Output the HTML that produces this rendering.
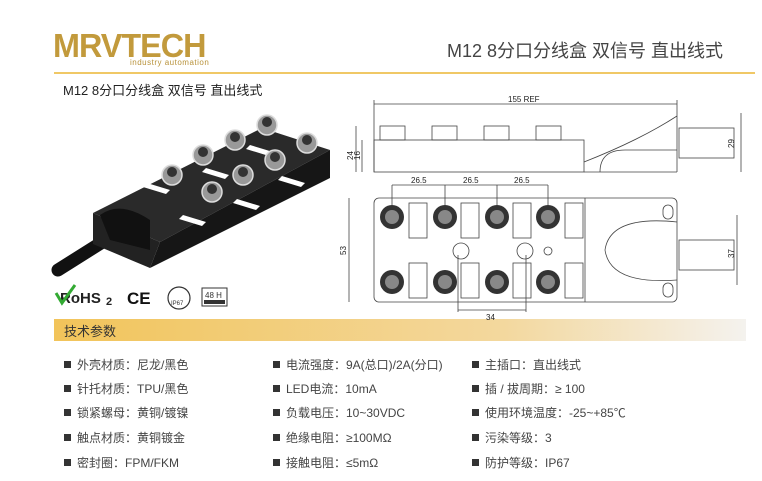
<!DOCTYPE html>
<html><head><meta charset="utf-8"><style>
body{margin:0;width:762px;height:481px;background:#fff;position:relative;overflow:hidden;font-family:"Liberation Sans","Noto Sans CJK SC",sans-serif;color:#333}
.a{position:absolute;white-space:nowrap}
.r{font-size:12px;color:#444}
.r b{display:inline-block;width:7px;height:7px;background:#333;margin-right:6px;vertical-align:1px}
</style></head><body>
<div class="a" style="left:53px;top:29px;font-size:33px;font-weight:bold;color:#c29a3c;letter-spacing:-1px;line-height:33px;font-family:'Liberation Sans',sans-serif;transform-origin:0 0;transform:scaleX(0.98)">MRVTECH</div>
<div class="a" style="left:130px;top:58px;font-size:8px;color:#b8923a;letter-spacing:0.5px">industry automation</div>
<div class="a" style="left:447px;top:37px;font-size:18px;color:#444">M12 8分口分线盒 双信号 直出线式</div>
<div class="a" style="left:54px;top:72px;width:701px;height:2px;background:#f0c866"></div>
<div class="a" style="left:63px;top:80px;font-size:13px;color:#222">M12 8分口分线盒 双信号 直出线式</div>
<div class="a" style="left:54px;top:319px;width:692px;height:22px;background:linear-gradient(90deg,#f2c45a,#f3d89e 65%,#f4f2ee)"></div>
<div class="a" style="left:64px;top:321px;font-size:13px;color:#333">技术参数</div>

<div class="a r" style="left:64px;top:356px"><b></b>外壳材质：尼龙/黑色</div>
<div class="a r" style="left:64px;top:380px"><b></b>针托材质：TPU/黑色</div>
<div class="a r" style="left:64px;top:404px"><b></b>锁紧螺母：黄铜/镀镍</div>
<div class="a r" style="left:64px;top:429px"><b></b>触点材质：黄铜镀金</div>
<div class="a r" style="left:64px;top:454px"><b></b>密封圈：FPM/FKM</div>
<div class="a r" style="left:273px;top:356px"><b></b>电流强度：9A(总口)/2A(分口)</div>
<div class="a r" style="left:273px;top:380px"><b></b>LED电流：10mA</div>
<div class="a r" style="left:273px;top:404px"><b></b>负载电压：10~30VDC</div>
<div class="a r" style="left:273px;top:429px"><b></b>绝缘电阻：≥100MΩ</div>
<div class="a r" style="left:273px;top:454px"><b></b>接触电阻：≤5mΩ</div>
<div class="a r" style="left:472px;top:356px"><b></b>主插口：直出线式</div>
<div class="a r" style="left:472px;top:380px"><b></b>插 / 拔周期：≥ 100</div>
<div class="a r" style="left:472px;top:404px"><b></b>使用环境温度：-25~+85℃</div>
<div class="a r" style="left:472px;top:429px"><b></b>污染等级：3</div>
<div class="a r" style="left:472px;top:454px"><b></b>防护等级：IP67</div>

<svg class="a" style="left:0;top:0" width="762" height="481">
<path d="M58,270 L112,236" stroke="#111" stroke-width="13" stroke-linecap="round"/>
<polygon points="93,213 262,128 330,150 160,242" fill="#2a2a2a"/>
<polygon points="160,242 330,150 330,178 150,268" fill="#161616"/>
<polygon points="93,213 160,242 150,268 93,244" fill="#222"/>
<path d="M100,215 Q120,200 150,220 L150,250 L110,240 Z" fill="#111"/>
<g fill="#fff"><polygon points="147,183 170,190 166,194 143,187"/><polygon points="183,215 206,222 202,226 179,219"/><polygon points="206,168 229,175 225,179 202,172"/><polygon points="237,199 260,206 256,210 233,203"/><polygon points="250,145 273,152 269,156 246,149"/><polygon points="282,176 305,183 301,187 278,180"/></g>
<g fill="#999" stroke="#ddd" stroke-width="1.5"><circle cx="172" cy="175" r="10"/><circle cx="203" cy="155" r="10"/><circle cx="235" cy="140" r="10"/><circle cx="267" cy="125" r="10"/><circle cx="212" cy="192" r="10"/><circle cx="243" cy="175" r="10"/><circle cx="275" cy="160" r="10"/><circle cx="307" cy="143" r="10"/></g>
<g fill="#333"><circle cx="172" cy="172" r="5"/><circle cx="203" cy="152" r="5"/><circle cx="235" cy="137" r="5"/><circle cx="267" cy="122" r="5"/><circle cx="212" cy="189" r="5"/><circle cx="243" cy="172" r="5"/><circle cx="275" cy="157" r="5"/><circle cx="307" cy="140" r="5"/></g>
<text x="60" y="303" font-family="Liberation Sans" font-weight="bold" font-size="15" fill="#222">RoHS</text><text x="106" y="305" font-family="Liberation Sans" font-weight="bold" font-size="11" fill="#222">2</text>
<path d="M56,293 L62,303 L75,285" stroke="#3a3" stroke-width="3" fill="none"/>
<text x="127" y="304" font-family="Liberation Sans" font-weight="bold" font-size="17" fill="#111">CE</text>
<circle cx="179" cy="298" r="11" fill="#fff" stroke="#333" stroke-width="1.2"/><text x="171" y="305" font-size="6" fill="#333" font-family="Liberation Sans">IP67</text>
<rect x="202" y="288" width="25" height="18" fill="#fff" stroke="#333"/><text x="205" y="298" font-size="8" fill="#333" font-family="Liberation Sans">48 H</text><rect x="204" y="300" width="21" height="4" fill="#333"/>
<g stroke="#444" stroke-width="0.8" fill="none">
<line x1="374" y1="104" x2="677" y2="104"/><line x1="374" y1="100" x2="374" y2="172"/><line x1="677" y1="100" x2="677" y2="172"/>
<rect x="374" y="140" width="210" height="32"/>
<path d="M584,162 Q640,140 677,116 M584,172 L677,172 M600,172 Q600,150 625,150 L677,150"/>
<rect x="679" y="128" width="55" height="30"/>
<line x1="741" y1="113" x2="741" y2="172"/><line x1="356" y1="126" x2="356" y2="172"/><line x1="362" y1="140" x2="362" y2="172"/>
<g><rect x="380" y="126" width="25" height="14"/><rect x="432" y="126" width="25" height="14"/><rect x="484" y="126" width="25" height="14"/><rect x="536" y="126" width="25" height="14"/></g>
<rect x="374" y="198" width="303" height="104" rx="5"/>
<line x1="585" y1="198" x2="585" y2="302"/>
<path d="M677,222 Q610,215 605,250 Q610,285 677,280"/>
<rect x="679" y="240" width="55" height="30"/>
<line x1="349" y1="198" x2="349" y2="302"/><line x1="737" y1="215" x2="737" y2="285"/>
<line x1="392" y1="185" x2="548" y2="185"/>
<line x1="392" y1="185" x2="392" y2="205"/><line x1="445" y1="185" x2="445" y2="205"/><line x1="497" y1="185" x2="497" y2="205"/><line x1="548" y1="185" x2="548" y2="205"/>
<line x1="458" y1="310" x2="526" y2="310"/><line x1="458" y1="255" x2="458" y2="312"/><line x1="526" y1="255" x2="526" y2="312"/>
<circle cx="461" cy="251" r="8"/><circle cx="525" cy="251" r="8"/><circle cx="548" cy="251" r="4"/>
<rect x="663" y="205" width="10" height="14" rx="5"/><rect x="663" y="283" width="10" height="14" rx="5"/>
<g><rect x="409" y="203" width="18" height="35"/><rect x="461" y="203" width="18" height="35"/><rect x="513" y="203" width="18" height="35"/><rect x="565" y="203" width="18" height="35"/><rect x="409" y="263" width="18" height="35"/><rect x="461" y="263" width="18" height="35"/><rect x="513" y="263" width="18" height="35"/><rect x="565" y="263" width="18" height="35"/></g>
</g>
<g fill="#333"><circle cx="392" cy="217" r="12"/><circle cx="445" cy="217" r="12"/><circle cx="497" cy="217" r="12"/><circle cx="548" cy="217" r="12"/><circle cx="392" cy="282" r="12"/><circle cx="445" cy="282" r="12"/><circle cx="497" cy="282" r="12"/><circle cx="548" cy="282" r="12"/></g>
<g fill="#888"><circle cx="392" cy="217" r="7"/><circle cx="445" cy="217" r="7"/><circle cx="497" cy="217" r="7"/><circle cx="548" cy="217" r="7"/><circle cx="392" cy="282" r="7"/><circle cx="445" cy="282" r="7"/><circle cx="497" cy="282" r="7"/><circle cx="548" cy="282" r="7"/></g>
<g font-family="Liberation Sans" font-size="8" fill="#222">
<text x="508" y="102">155 REF</text><text x="411" y="183">26.5</text><text x="463" y="183">26.5</text><text x="514" y="183">26.5</text>
<text x="486" y="320">34</text>
<text transform="translate(353,160) rotate(-90)">24</text><text transform="translate(360,160) rotate(-90)">16</text>
<text transform="translate(346,255) rotate(-90)">53</text><text transform="translate(734,148) rotate(-90)">29</text><text transform="translate(734,258) rotate(-90)">37</text>
</g>
</svg>
</body></html>
